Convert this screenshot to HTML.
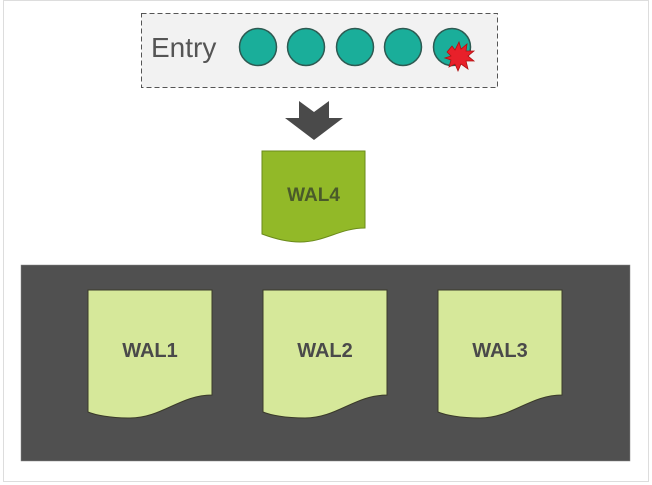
<!DOCTYPE html>
<html><head><meta charset="utf-8"><style>
html,body{margin:0;padding:0;background:#fff;}
svg{display:block;font-family:"Liberation Sans",sans-serif;}
</style></head><body>
<svg width="652" height="485" viewBox="0 0 652 485">
  <rect x="3.5" y="0.5" width="645" height="481" fill="#fff" stroke="#bbb" stroke-dasharray="1,1"/>
  <g>
    <rect x="141.5" y="13.5" width="356" height="74" fill="#f2f2f2" stroke="#555" stroke-dasharray="5,3"/>
    <text x="151" y="57" font-size="28" fill="#555">Entry</text>
    <circle cx="258" cy="47" r="18.5" fill="#1aae9a" stroke="#2e5a52" stroke-width="1.5"/>
    <circle cx="306" cy="47" r="18.5" fill="#1aae9a" stroke="#2e5a52" stroke-width="1.5"/>
    <circle cx="355" cy="47" r="18.5" fill="#1aae9a" stroke="#2e5a52" stroke-width="1.5"/>
    <circle cx="403" cy="47" r="18.5" fill="#1aae9a" stroke="#2e5a52" stroke-width="1.5"/>
    <circle cx="452" cy="47" r="18.5" fill="#1aae9a" stroke="#2e5a52" stroke-width="1.5"/>
    <polygon points="447,52 452,46 455,50 459,42 461,49 467,44 466,51 474,51 468,56 474,61 466,61 468,69 461,64 458,71 455,64 449,67 451,60 445,58 451,56" fill="#e8202a" stroke="#b01010" stroke-width="0.8"/>
  </g>
  <polygon points="299,101 314,112 329,101 329,118 343,118 314,140 285,118 299,118" fill="#4a4a4a"/>
  <g>
    <path d="M262,151 H365 V228 C340,228 325,242 300,242 C285,242 270,237 262,234 Z" fill="#92b928" stroke="#6a8a1a" stroke-width="1"/>
    <text x="313.5" y="201" font-size="19" font-weight="bold" fill="#4a5a2a" text-anchor="middle">WAL4</text>
  </g>
  <rect x="21" y="265" width="609" height="196" fill="#505050" stroke="#888" stroke-width="0.5"/>
  <g>
    <path d="M88,290 H212 V395 C180,395 162,418 130,418 C110,418 95,415 88,412 Z" fill="#d6e89a" stroke="#3a3a2a" stroke-width="1"/>
    <text x="150" y="357" font-size="20" font-weight="bold" fill="#4a4a4a" text-anchor="middle">WAL1</text>
  </g>
  <g>
    <path d="M263,290 H387 V395 C355,395 337,418 305,418 C285,418 270,415 263,412 Z" fill="#d6e89a" stroke="#3a3a2a" stroke-width="1"/>
    <text x="325" y="357" font-size="20" font-weight="bold" fill="#4a4a4a" text-anchor="middle">WAL2</text>
  </g>
  <g>
    <path d="M438,290 H562 V395 C530,395 512,418 480,418 C460,418 445,415 438,412 Z" fill="#d6e89a" stroke="#3a3a2a" stroke-width="1"/>
    <text x="500" y="357" font-size="20" font-weight="bold" fill="#4a4a4a" text-anchor="middle">WAL3</text>
  </g>
</svg>
</body></html>
